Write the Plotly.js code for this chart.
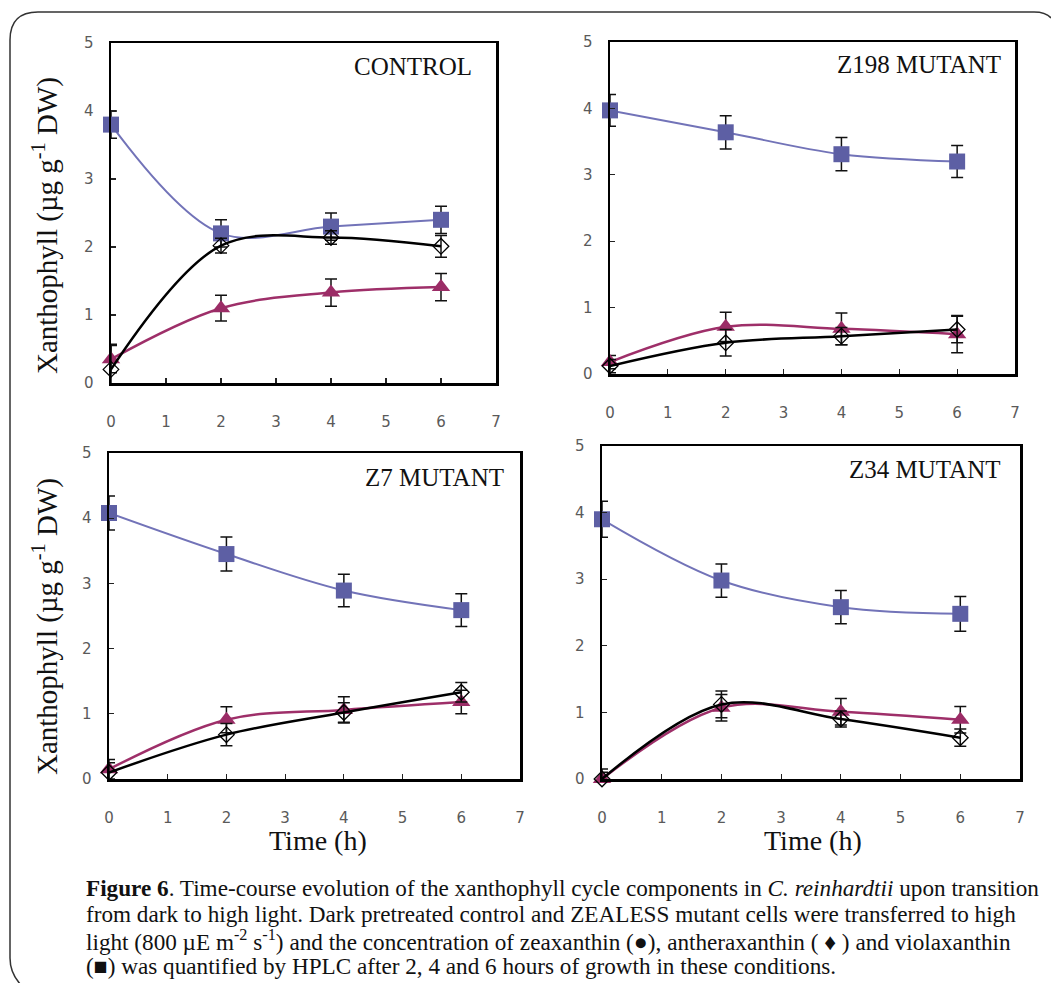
<!DOCTYPE html>
<html>
<head>
<meta charset="utf-8">
<script src="https://cdn.plot.ly/plotly-3.0.1.min.js"></script>
<style>html,body{margin:0;padding:0;background:#fff;}#chart{width:1051px;height:983px;}</style>
</head>
<body>
<div id="chart"></div>
<script>
// ---- data ----
var timeH = [0, 2, 4, 6];
var panelNames = ["CONTROL", "Z198 MUTANT", "Z7 MUTANT", "Z34 MUTANT"];
var xTickVals = [0, 1, 2, 3, 4, 5, 6, 7];
var yTickVals = [0, 1, 2, 3, 4, 5];

// violaxanthin (squares)
var violaControl = [3.80, 2.20, 2.30, 2.40];
var violaControlErr = [0.20, 0.20, 0.20, 0.20];
var violaZ198 = [3.97, 3.64, 3.31, 3.20];
var violaZ198Err = [0.24, 0.25, 0.25, 0.24];
var violaZ7 = [4.08, 3.45, 2.89, 2.59];
var violaZ7Err = [0.26, 0.26, 0.25, 0.25];
var violaZ34 = [3.90, 2.98, 2.58, 2.48];
var violaZ34Err = [0.27, 0.25, 0.25, 0.26];

// antheraxanthin (open diamonds)
var antheraControl = [0.20, 2.02, 2.14, 2.01];
var antheraControlErr = [0.37, 0.11, 0.10, 0.16];
var antheraZ198 = [0.12, 0.47, 0.57, 0.67];
var antheraZ198Err = [0.10, 0.20, 0.13, 0.20];
var antheraZ7 = [0.10, 0.68, 1.02, 1.33];
var antheraZ7Err = [0.15, 0.17, 0.15, 0.15];
var antheraZ34 = [0.00, 1.12, 0.90, 0.62];
var antheraZ34Err = [0.15, 0.20, 0.12, 0.13];

// zeaxanthin (triangles)
var zeaControl = [0.35, 1.10, 1.33, 1.41];
var zeaControlErr = [0.20, 0.19, 0.20, 0.20];
var zeaZ198 = [0.18, 0.71, 0.68, 0.60];
var zeaZ198Err = [0.10, 0.22, 0.24, 0.28];
var zeaZ7 = [0.15, 0.91, 1.06, 1.18];
var zeaZ7Err = [0.15, 0.20, 0.20, 0.18];
var zeaZ34 = [0.00, 1.07, 1.01, 0.89];
var zeaZ34Err = [0.10, 0.20, 0.20, 0.20];

var violaSets = [violaControl, violaZ198, violaZ7, violaZ34];
var violaErrs = [violaControlErr, violaZ198Err, violaZ7Err, violaZ34Err];
var antheraSets = [antheraControl, antheraZ198, antheraZ7, antheraZ34];
var antheraErrs = [antheraControlErr, antheraZ198Err, antheraZ7Err, antheraZ34Err];
var zeaSets = [zeaControl, zeaZ198, zeaZ7, zeaZ34];
var zeaErrs = [zeaControlErr, zeaZ198Err, zeaZ7Err, zeaZ34Err];

// ---- layout helpers ----
var W = 1051, H = 983;
function px(x) { return x / W; }
function py(y) { return 1 - y / H; }

// plot areas in pixels: [left, right, top, bottom]
var boxes = [
  [111, 496, 43, 383],
  [610, 1015, 42, 374],
  [109, 520, 453, 779],
  [602, 1020, 446, 779]
];
var labelPos = [[474, 67], [1003, 65], [506, 477], [1002, 469]];

var serif = "Liberation Serif, Times New Roman, serif";
var traces = [];
var layout = {
  width: W, height: H,
  margin: {l: 0, r: 0, t: 0, b: 0},
  paper_bgcolor: "#fff", plot_bgcolor: "#fff",
  showlegend: false,
  annotations: [],
  shapes: []
};

for (var i = 0; i < 4; i++) {
  var n = i === 0 ? "" : String(i + 1);
  var xa = "x" + n, ya = "y" + n;
  var b = boxes[i];
  var axBase = {
    showgrid: false, zeroline: false,
    showline: true, linecolor: "#000", linewidth: 2.5, mirror: true,
    ticks: "inside", ticklen: 5, tickwidth: 1.2, tickcolor: "#222",
    tickfont: {family: "DejaVu Sans, Verdana, sans-serif", size: 15, color: "#5a5a5a"},
    fixedrange: true
  };
  layout["xaxis" + n] = Object.assign({}, axBase, {
    domain: [px(b[0]), px(b[1])], anchor: ya,
    range: [0, 7], tickvals: xTickVals, ticklabelstandoff: 23
  });
  layout["yaxis" + n] = Object.assign({}, axBase, {
    domain: [py(b[3]), py(b[2])], anchor: xa,
    range: [0, 5], tickvals: yTickVals, ticklabelstandoff: 12
  });

  traces.push({
    x: timeH, y: violaSets[i], xaxis: xa, yaxis: ya, type: "scatter", mode: "lines+markers",
    cliponaxis: false,
    line: {color: "#7273b8", width: 2, shape: "spline", smoothing: 1},
    marker: {symbol: "square", size: 16, color: "#5d5fa4"},
    error_y: {type: "data", array: violaErrs[i], visible: true, color: "#111", thickness: 1.5, width: 6}
  });
  traces.push({
    x: timeH, y: zeaSets[i], xaxis: xa, yaxis: ya, type: "scatter", mode: "lines+markers",
    cliponaxis: false,
    line: {color: "#9e2f69", width: 2.5, shape: "spline", smoothing: 1},
    marker: {symbol: "triangle-up", size: 16, color: "#9b2c66"},
    error_y: {type: "data", array: zeaErrs[i], visible: true, color: "#111", thickness: 1.5, width: 6}
  });
  traces.push({
    x: timeH, y: antheraSets[i], xaxis: xa, yaxis: ya, type: "scatter", mode: "lines+markers",
    cliponaxis: false,
    line: {color: "#000", width: 2.5, shape: "spline", smoothing: 1},
    marker: {symbol: "diamond-open", size: 12, color: "#000", line: {width: 1.3}},
    error_y: {type: "data", array: antheraErrs[i], visible: true, color: "#111", thickness: 1.5, width: 6}
  });

  layout.annotations.push({
    xref: "paper", yref: "paper", x: px(labelPos[i][0]), y: py(labelPos[i][1]),
    xanchor: "right", yanchor: "middle", showarrow: false,
    text: panelNames[i], font: {family: serif, size: 25, color: "#111"}
  });
}

var yTitle = "Xanthophyll (µg g<sup>-1</sup> DW)";
[[45, 226], [45, 627]].forEach(function (p) {
  layout.annotations.push({
    xref: "paper", yref: "paper", x: px(p[0]), y: py(p[1]),
    xanchor: "center", yanchor: "middle", showarrow: false, textangle: -90,
    text: yTitle, font: {family: serif, size: 29, color: "#111"}
  });
});
[[318, 840], [813, 840]].forEach(function (p) {
  layout.annotations.push({
    xref: "paper", yref: "paper", x: px(p[0]), y: py(p[1]),
    xanchor: "center", yanchor: "middle", showarrow: false,
    text: "Time (h)", font: {family: serif, size: 28, color: "#111"}
  });
});

var caption = [
  "<b>Figure 6</b>. Time-course evolution of the xanthophyll cycle components in <i>C. reinhardtii</i> upon transition",
  "from dark to high light. Dark pretreated control and ZEALESS mutant cells were transferred to high",
  "light (800 µE m<sup>-2</sup> s<sup>-1</sup>) and the concentration of zeaxanthin (●), antheraxanthin ( ♦ ) and violaxanthin",
  "(■) was quantified by HPLC after 2, 4 and 6 hours of growth in these conditions."
];
var capY = [888, 914, 940, 966];
caption.forEach(function (t, k) {
  layout.annotations.push({
    xref: "paper", yref: "paper", x: px(84), y: py(capY[k]),
    xanchor: "left", yanchor: "middle", showarrow: false,
    text: t, font: {family: serif, size: 23.2, color: "#111"}
  });
});

// rounded figure frame
var framePath = "M " + px(1051) + " " + py(18) +
  " Q " + px(1046) + " " + py(12) + " " + px(1034) + " " + py(12) +
  " L " + px(38) + " " + py(12) +
  " Q " + px(10) + " " + py(12) + " " + px(10) + " " + py(40) +
  " L " + px(10) + " " + py(958) +
  " Q " + px(10) + " " + py(974) + " " + px(22) + " " + py(986);
layout.shapes.push({type: "path", xref: "paper", yref: "paper", path: framePath,
  line: {color: "#333", width: 1.5}});

Plotly.newPlot("chart", traces, layout, {displayModeBar: false, staticPlot: true});
</script>
</body>
</html>
